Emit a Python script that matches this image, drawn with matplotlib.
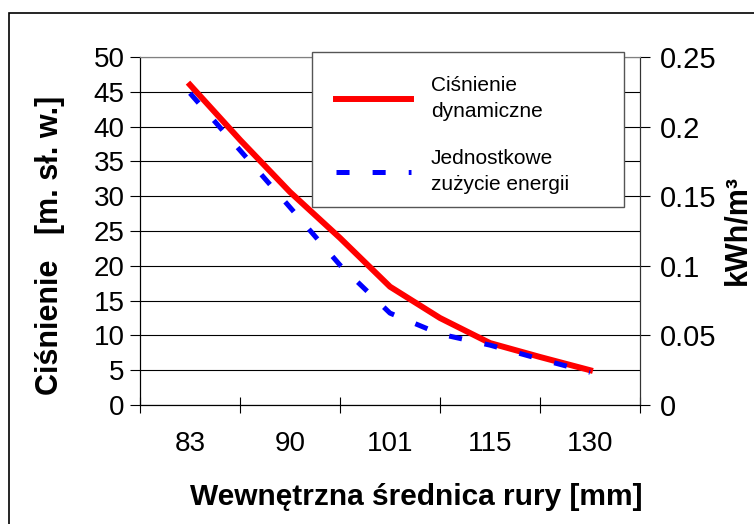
import numpy as np
import matplotlib
matplotlib.use("Agg")
from matplotlib import pyplot as plt
from matplotlib.patches import Rectangle

# Data
categories = ["83", "90", "101", "115", "130"]
xpos = [0, 0.5, 1, 1.5, 2, 2.5, 3, 3.5, 4]          # category index, half steps
cisnienie = [46.0, 38.1, 30.6, 24.0, 17.0, 12.5, 8.9, 6.9, 5.0]          # m. sł. w.
energia = [0.224, 0.183, 0.142, 0.1005, 0.066, 0.051, 0.043, 0.033, 0.0235]  # kWh/m3

plt.rcParams['font.family'] = ['Liberation Sans', 'DejaVu Sans']
plt.rcParams['lines.scale_dashes'] = False

W, H = 754, 524
fig = plt.figure(figsize=(W / 100, H / 100), dpi=100)
fig.patch.set_facecolor("white")

# frame around the whole chart
fig.patches.append(Rectangle((9 / W, -0.1), 1.2, 1 - 13 / H + 0.1, transform=fig.transFigure,
                             fill=False, edgecolor="black", linewidth=1.2))

ax = fig.add_axes([140 / W, 1 - 405 / H, 500 / W, 348 / H])
ax2 = ax.twinx()

ax.set_xlim(-0.5, 4.5)
ax.set_ylim(0, 50)
ax2.set_ylim(0, 0.25)

ax.set_yticks(np.arange(0, 51, 5))
ax.yaxis.grid(True, color="black", linewidth=0.8)
ax.set_axisbelow(True)
ax2.set_yticks(np.arange(0, 0.26, 0.05))
ax2.set_yticklabels(["0", "0.05", "0.1", "0.15", "0.2", "0.25"])

ax.set_xticks(np.arange(-0.5, 4.6, 1))
ax.set_xticklabels([])
ax.set_xticks(range(len(categories)), minor=True)
ax.set_xticklabels(categories, minor=True)
ax.tick_params(axis="x", which="major", direction="inout", length=12, width=0.8)
ax.tick_params(axis="x", which="minor", length=0, pad=19, labelsize=20)
ax.tick_params(axis="y", direction="out", length=7, width=0.8, pad=4, labelsize=20)
ax2.tick_params(axis="y", direction="out", length=7, width=0.8, pad=7, labelsize=21)

for a in (ax, ax2):
    a.spines["top"].set_color("#808080")
    a.spines["left"].set_color("black")
    a.spines["right"].set_color("#333333")
    a.spines["bottom"].set_color("black")

l1, = ax.plot(xpos, cisnienie, color="#ff0000", linewidth=4.3, solid_joinstyle="miter")
l2, = ax2.plot(xpos, energia, color="#0000ff", linewidth=3.6, dash_capstyle="butt",
               dashes=(9.4, 16.6))

# legend box drawn separately, entries placed inside it
box = Rectangle((312 / W, 1 - 207 / H), 312 / W, 155 / H, transform=fig.transFigure,
                facecolor="white", edgecolor="#555555", linewidth=1.0, zorder=4)
ax2.add_patch(box)
box.set_clip_on(False)

leg = ax2.legend([l1, l2], ["Ciśnienie\ndynamiczne", "Jednostkowe\nzużycie energii"],
                 loc="upper left", bbox_to_anchor=(336 / W, 1 - 76 / H),
                 bbox_transform=fig.transFigure, frameon=False,
                 fontsize=15, handlelength=3.6, handletextpad=0.95, borderpad=0,
                 labelspacing=1.37, borderaxespad=0)
for t in leg.get_texts():
    t.set_linespacing(1.45)
leg.set_zorder(5)

fig.text(50 / W, 1 - 245 / H, "Ciśnienie   [m. sł. w.]", rotation=90, ha="center", va="center",
         fontsize=22, fontweight="bold")
fig.text(737 / W, 1 - 230 / H, "kWh/m³", rotation=90, ha="center", va="center",
         fontsize=22, fontweight="bold")
fig.text(416 / W, 1 - 497 / H, "Wewnętrzna średnica rury [mm]", ha="center", va="center",
         fontsize=21.5, fontweight="bold")

fig.savefig("out.png", dpi=100)
